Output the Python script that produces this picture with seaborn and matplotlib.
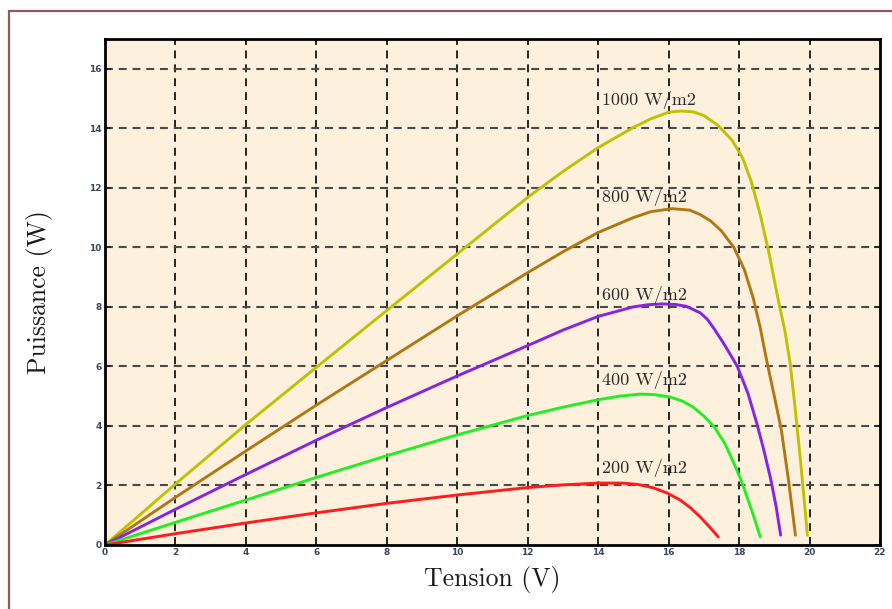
import numpy as np
import pandas as pd
import matplotlib
matplotlib.use("Agg")
import matplotlib.pyplot as plt
from matplotlib.patches import Rectangle
import seaborn as sns

# P-V characteristics of a PV module for several irradiance levels
V_1000 = [0, 2, 4, 6, 8, 10, 12, 13, 14, 15, 15.5, 16, 16.35, 16.7, 17.0, 17.4, 17.8, 18.1,
          18.35, 18.6, 18.85, 19.1, 19.3, 19.45, 19.6, 19.75, 19.85, 19.94]
P_1000 = [0, 2.05, 4.05, 5.97, 7.88, 9.78, 11.68, 12.55, 13.35, 14.03, 14.32, 14.54, 14.58, 14.55,
          14.43, 14.1, 13.6, 13.0, 12.2, 11.1, 9.8, 8.3, 7.2, 6.1, 4.5, 2.75, 1.5, 0.33]

V_800 = [0, 2, 4, 6, 8, 10, 12, 13, 14, 15, 15.5, 16.1, 16.6, 16.9, 17.2, 17.5, 17.85, 18.15,
         18.4, 18.6, 18.8, 19.0, 19.2, 19.4, 19.6]
P_800 = [0, 1.6, 3.16, 4.7, 6.2, 7.7, 9.15, 9.85, 10.5, 11.0, 11.2, 11.3, 11.25, 11.1, 10.88,
         10.55, 10.0, 9.25, 8.3, 7.3, 6.1, 5.0, 3.86, 2.2, 0.33]

V_600 = [0, 2, 4, 6, 8, 10, 12, 13, 14, 15, 15.4, 15.8, 16.2, 16.5, 16.9, 17.1, 17.3, 17.6,
         17.95, 18.25, 18.5, 18.7, 18.9, 19.05, 19.18]
P_600 = [0, 1.2, 2.37, 3.52, 4.62, 5.68, 6.7, 7.22, 7.68, 8.0, 8.07, 8.1, 8.08, 8.02, 7.8, 7.58,
         7.25, 6.7, 6.0, 5.1, 4.1, 3.2, 2.2, 1.3, 0.33]

V_400 = [0, 2, 4, 6, 8, 10, 12, 13, 14, 14.6, 15.2, 15.6, 16.05, 16.4, 16.7, 17.0, 17.3, 17.6,
         17.85, 18.05, 18.23, 18.42, 18.6]
P_400 = [0, 0.76, 1.51, 2.27, 3.0, 3.7, 4.35, 4.63, 4.88, 5.0, 5.07, 5.05, 4.97, 4.83, 4.63,
         4.33, 3.96, 3.4, 2.75, 2.2, 1.6, 0.95, 0.27]

V_200 = [0, 2, 4, 6, 8, 10, 12, 13, 14, 14.7, 15.15, 15.57, 15.95, 16.33, 16.62, 16.9, 17.15, 17.41]
P_200 = [0, 0.38, 0.74, 1.08, 1.4, 1.68, 1.93, 2.02, 2.08, 2.08, 2.03, 1.92, 1.75, 1.51, 1.25,
         0.94, 0.62, 0.27]

labels = ["1000 W/m2", "800 W/m2", "600 W/m2", "400 W/m2", "200 W/m2"]
colors = ["#c2c000", "#b07812", "#8424e6", "#22ee22", "#ff1c1c"]
# where each curve's label is written (V, W)
label_pos = [(14.1, 14.95), (14.1, 11.7), (14.1, 8.4), (14.1, 5.55), (14.1, 2.6)]

x_ticks = list(range(0, 23, 2))
y_ticks = list(range(0, 17, 2))

series = [(V_1000, P_1000), (V_800, P_800), (V_600, P_600), (V_400, P_400), (V_200, P_200)]
frames = []
for lab, (v, p) in zip(labels, series):
    frames.append(pd.DataFrame({"Tension": v, "Puissance": p, "Irradiance": lab}))
df = pd.concat(frames, ignore_index=True)

sns.set_theme(style="white")
serif = ["cmr10", "DejaVu Serif"]

fig = plt.figure(figsize=(8.92, 6.09), dpi=100)
fig.patch.set_facecolor("white")
# outer frame
fig.add_artist(Rectangle((9 / 892, -0.05), 1.2, 1 - 11 / 609 + 0.05,
                         transform=fig.transFigure, fill=False,
                         edgecolor="#8c5c5c", linewidth=1.6))

ax = fig.add_axes([105 / 892, 1 - 545 / 609, (880 - 105) / 892, (545 - 39) / 609])
ax.set_facecolor("#fdf0dd")
ax.set_axisbelow(True)

sns.lineplot(data=df, x="Tension", y="Puissance", hue="Irradiance",
             palette=dict(zip(labels, colors)), hue_order=labels,
             sort=False, estimator=None, legend=False, linewidth=2.1, ax=ax)
for ln in ax.get_lines():
    ln.set_solid_joinstyle("round")
    ln.set_solid_capstyle("round")

ax.set_xlim(0, 22)
ax.set_ylim(0, 17)
ax.set_xticks(x_ticks)
ax.set_yticks(y_ticks)

for xv in x_ticks[1:-1]:
    ax.axvline(xv, color="#151515", linewidth=1.3, linestyle=(0, (4.4, 3.3)), zorder=0.5)
for yv in y_ticks[1:]:
    ax.axhline(yv, color="#4a4a4a", linewidth=1.5, linestyle=(0, (3.8, 2.8)), zorder=0.5)

for lab, (lx, ly) in zip(labels, label_pos):
    ax.text(lx, ly, lab, family=serif, fontsize=13, color="#2a2a2a",
            ha="left", va="center")

for s in ax.spines.values():
    s.set_visible(True)
    s.set_color("black")
    s.set_linewidth(2.0)

ax.tick_params(axis="both", which="both", direction="in", length=4, width=1.3,
               top=True, right=True, bottom=True, left=True,
               labelsize=6.5, labelcolor="#3c4660", pad=2.5)
for t in ax.get_xticklabels() + ax.get_yticklabels():
    t.set_fontweight("bold")

ax.set_xlabel("Tension (V)", family=serif, fontsize=18.5, color="#1a1a1a", labelpad=6)
ax.set_ylabel("Puissance (W)", family=serif, fontsize=18.5, color="#1a1a1a", labelpad=26)

fig.savefig("out.png", dpi=100, facecolor="white")
